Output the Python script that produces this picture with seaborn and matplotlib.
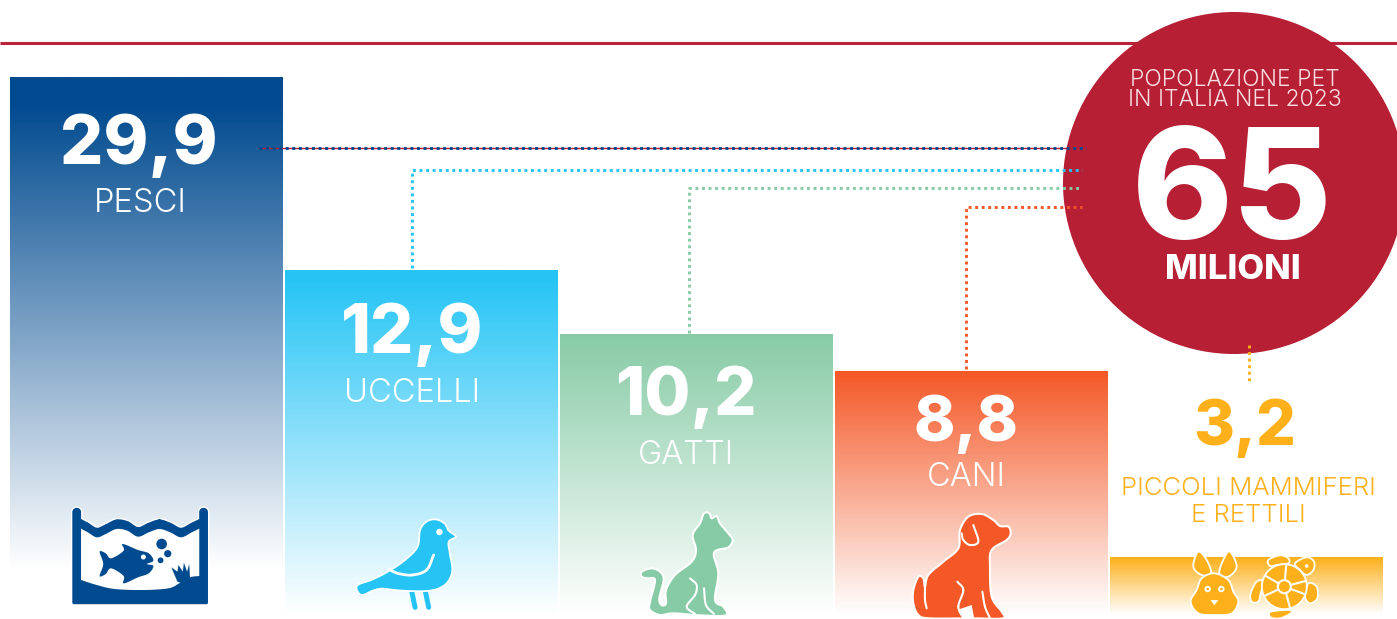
import numpy as np
import pandas as pd
import matplotlib
matplotlib.use("Agg")
import matplotlib.pyplot as plt
import seaborn as sns
from matplotlib.colors import to_rgb
from matplotlib.patches import Circle, Polygon

# ---- data -------------------------------------------------------------
categories = ["PESCI", "UCCELLI", "GATTI", "CANI", "PICCOLI MAMMIFERI\nE RETTILI"]
values_millions = [29.9, 12.9, 10.2, 8.8, 3.2]
# the column heights in the source are not proportional to the values
column_heights = [542, 349, 285, 248, 62]
bar_colors = ["#004a8f", "#25c4f5", "#87cba6", "#f45827", "#fdb01a"]
total_label = "65"
total_unit = "MILIONI"
total_title = "POPOLAZIONE PET\nIN ITALIA NEL 2023"

RED = "#b61f34"
WIDTH, HEIGHT = 1397, 619
BOLD = ["Inter", "Open Sans", "DejaVu Sans"]
LIGHT = ["Inter", "Open Sans", "DejaVu Sans"]

sns.set_theme(style="white")
plt.rcParams["font.family"] = ["Inter", "DejaVu Sans"]

fig = plt.figure(figsize=(WIDTH / 100, HEIGHT / 100), dpi=100, facecolor="white")
ax = fig.add_axes([0, 0, 1, 1])

df = pd.DataFrame({"categoria": categories, "altezza": column_heights})
sns.barplot(data=df, x="categoria", y="altezza", ax=ax, width=0.99,
            color="white", saturation=1, linewidth=0, errorbar=None)
# one category step = 275 px, first bar centred on x=146 px
ax.set_xlim(-146 / 275, (WIDTH - 146) / 275)
ax.set_ylim(0, HEIGHT)
ax.axis("off")

fade_floor = [50, 5, 5, 5, 5]
hold_top = [0.05, 0.02, 0.0, 0.0, 0.0]
for patch, col, floor, hold in zip(ax.patches, bar_colors, fade_floor, hold_top):
    x0, x1 = patch.get_x(), patch.get_x() + patch.get_width()
    top = patch.get_height()
    n = 256
    t = np.linspace(0, 1, n)              # 0 at the top
    y_px = top - t * top
    f = np.clip((top - y_px) / (top - floor), 0, 1)
    f = np.clip((f - hold) / (1 - hold), 0, 1)
    rgb = np.array(to_rgb(col))
    img = (rgb[None, :] * (1 - f[:, None]) + f[:, None])[:, None, :]
    im = ax.imshow(img, extent=[x0, x1, 0, top], origin="upper", aspect="auto", zorder=2)
    im.set_clip_path(patch)
    patch.set_facecolor("none")
ax.set_xlim(-146 / 275, (WIDTH - 146) / 275)
ax.set_ylim(0, HEIGHT)

# overlay in pixel units for annotation furniture
ov = fig.add_axes([0, 0, 1, 1], facecolor="none")
ov.set_xlim(0, WIDTH)
ov.set_ylim(HEIGHT, 0)
ov.axis("off")

ov.plot([0, WIDTH], [42.8, 42.8], color="#b8233a", lw=2.2, solid_capstyle="butt", zorder=1)
ov.add_patch(Circle((1234, 183), 171, fc=RED, ec="none", zorder=2))


def dotted(xs, ys, color, z=5):
    ov.plot(xs, ys, color=color, lw=2.1, zorder=z, linestyle=(0, (1.0, 1.25)),
            dash_capstyle="butt", solid_joinstyle="miter")


ov.plot([259, 1086], [147.8, 147.8], color=RED, lw=1.0, zorder=4)
dotted([259, 1086], [147.8, 147.8], bar_colors[0])
dotted([412, 412, 1082], [268, 169.5, 169.5], bar_colors[1])
dotted([689, 689, 1082], [333, 187.8, 187.8], bar_colors[2])
dotted([966, 966, 1082], [369, 206.8, 206.8], bar_colors[3])
dotted([1249, 1249], [345, 383], bar_colors[4])

# texts
labels = [f"{v:.1f}".replace(".", ",") for v in values_millions]
num_pos = [(139, 146), (412, 335), (686, 397), (966, 424), (1245, 428)]
num_size = [49, 49, 48, 45, 45]
cat_pos = [(140, 203), (412, 393), (686, 456), (966, 477), (1248, 502)]
cat_size = [23.5, 23.5, 23.5, 23.5, 18.5]
for i, cat in enumerate(categories):
    col = "white" if i < 4 else bar_colors[4]
    ov.text(*num_pos[i], labels[i], color=col, fontsize=num_size[i], fontweight=800,
            family=BOLD, ha="center", va="center", zorder=6)
    ov.text(*cat_pos[i], cat, color=col, fontsize=cat_size[i], fontweight=300,
            family=LIGHT, ha="center", va="center", linespacing=1.22, zorder=6)

ov.text(1235, 90, total_title, color="#f6dfe3", fontsize=16.5, fontweight=300, family=LIGHT,
        ha="center", va="center", linespacing=0.88, zorder=6)
ov.text(1232, 199, total_label, color="white", fontsize=110, fontweight=800, family=BOLD,
        ha="center", va="center", zorder=6)
ov.text(1233, 270, total_unit, color="white", fontsize=25, fontweight=800, family=BOLD,
        ha="center", va="center", zorder=6)


# ---- icons ------------------------------------------------------------
def smooth(pts, steps=10):
    """Closed Catmull-Rom curve through outline points."""
    p = np.asarray(pts, float)
    out = []
    n = len(p)
    for i in range(n):
        a, b, c, d = p[i - 1], p[i], p[(i + 1) % n], p[(i + 2) % n]
        for t in np.linspace(0, 1, steps, endpoint=False):
            out.append(0.5 * (2 * b + (c - a) * t + (2 * a - 5 * b + 4 * c - d) * t ** 2
                              + (3 * b - a - 3 * c + d) * t ** 3))
    return np.array(out)


def smooth_open(pts, steps=10):
    p = np.asarray(pts, float)
    p = np.vstack([2 * p[0] - p[1], p, 2 * p[-1] - p[-2]])
    out = []
    for i in range(1, len(p) - 2):
        a, b, c, d = p[i - 1], p[i], p[i + 1], p[i + 2]
        for t in np.linspace(0, 1, steps):
            out.append(0.5 * (2 * b + (c - a) * t + (2 * a - 5 * b + 4 * c - d) * t ** 2
                              + (3 * b - a - 3 * c + d) * t ** 3))
    return np.array(out)


def mapper(ox, oy, sx, sy):
    return lambda pts: np.column_stack([ox + np.asarray(pts, float)[:, 0] / sx,
                                        oy + np.asarray(pts, float)[:, 1] / sy])


def blob(m, pts, color, ec="white", lw=1.3, z=7):
    ov.add_patch(Polygon(smooth(m(pts)), closed=True, fc=color, ec=ec, lw=lw, zorder=z, joinstyle="round"))


def stroke(m, pts, color="white", lw=1.5, z=8):
    xy = smooth_open(m(pts))
    ov.plot(xy[:, 0], xy[:, 1], color=color, lw=lw, zorder=z, solid_capstyle="round")


def wall_cap(cx, r=8, top=66):
    ang = np.linspace(np.pi, 0, 12)
    return [(cx + r * np.cos(a), top - r * np.sin(a)) for a in ang]


# fish tank
m = mapper(0, 490, 2.79, 3.0)
BLUE = bar_colors[0]
water = [(226, 92), (245, 103), (270, 118), (295, 108), (325, 93), (355, 98), (385, 116), (415, 103),
         (445, 93), (475, 103), (505, 118), (535, 103), (556, 92)]
top_w = smooth_open(m(water))
low_w = smooth_open(m([(x, y + 24) for x, y in water]))
cap_l = m([(206, 338)] + wall_cap(214) + [(222, 92)])
cap_r = m([(560, 92)] + wall_cap(568) + [(576, 338)])
sil = np.vstack([cap_l, top_w, cap_r])
ov.add_patch(Polygon(sil, closed=True, fc=BLUE, ec="white", lw=4.2, zorder=6.8, joinstyle="round"))
ov.add_patch(Polygon(sil, closed=True, fc=BLUE, ec=BLUE, lw=2.2, zorder=7, joinstyle="round"))
floor = [(556, 258), (530, 262), (500, 280), (470, 295), (400, 300), (320, 297), (270, 285), (226, 270)]
ov.add_patch(Polygon(np.vstack([low_w, smooth_open(m(floor))]), closed=True, fc="white", ec="none", zorder=7.1))
blob(m, [(278, 185), (295, 190), (310, 205), (345, 182), (342, 162), (385, 180), (415, 190), (428, 212),
         (410, 222), (428, 228), (415, 250), (385, 262), (345, 280), (345, 258), (310, 235), (295, 252), (278, 258), (288, 222)],
     BLUE, ec="none", z=7.3)
ov.add_patch(Circle(m([(400, 201)])[0], 2.5, fc="white", ec="none", zorder=7.4))
for cx, cy, r in [(451, 162, 5.3), (468, 191, 3.6), (448, 211, 2.9)]:
    ov.add_patch(Circle(m([(cx, cy)])[0], r, fc=BLUE, ec="none", zorder=7.3))
ov.add_patch(Polygon(m([(495, 275), (478, 232), (495, 245), (498, 225), (510, 245), (513, 218), (522, 245), (528, 222), (530, 262), (520, 285)]),
                     closed=True, fc=BLUE, ec="none", zorder=7.3))

# bird
mb = mapper(0, 490, 2.79, 3.0)
C = bar_colors[1]
stroke(mb, [(1148, 300), (1158, 352)], C, lw=3.6, z=6.9)
stroke(mb, [(1186, 300), (1196, 352)], C, lw=3.6, z=6.9)
blob(mb, [(998, 285), (1040, 268), (1085, 243), (1130, 210), (1165, 170), (1172, 120), (1190, 95), (1215, 88),
          (1240, 100), (1252, 122), (1272, 140), (1252, 155), (1255, 190), (1262, 240), (1250, 275), (1225, 295),
          (1190, 303), (1140, 303), (1100, 300), (1065, 296), (1040, 302), (1012, 315), (998, 305)], C)
stroke(mb, [(1085, 238), (1110, 250), (1150, 255), (1190, 240), (1210, 195)], lw=2.0)
ov.add_patch(Circle(mb([(1226, 126)])[0], 3.2, fc="white", ec="none", zorder=8))

# cat
mc = mapper(560, 490, 3, 3)
C = bar_colors[2]
blob(mc, [(245, 245), (275, 235), (300, 245), (311, 268), (298, 325), (305, 345), (318, 340), (318, 300), (345, 255), (395, 215), (408, 180), (398, 135), (420, 100),
          (432, 70), (448, 70), (455, 85), (470, 78), (480, 100), (505, 130), (518, 150), (505, 172), (462, 188),
          (475, 250), (465, 330), (490, 350), (497, 376), (420, 376), (340, 370), (300, 375), (270, 360), (270, 335),
          (285, 270), (262, 265), (245, 260)], C, lw=1.5)
stroke(mc, [(390, 265), (410, 285), (405, 315), (380, 350), (405, 372)])
stroke(mc, [(432, 295), (438, 345), (462, 372)])

# dog
md = mapper(560, 490, 3, 3)
C = bar_colors[3]
blob(md, [(1060, 300), (1075, 260), (1090, 265), (1095, 290), (1105, 255), (1150, 215), (1195, 175), (1200, 120), (1225, 80),
          (1265, 72), (1300, 90), (1320, 108), (1345, 110), (1352, 130), (1340, 150), (1295, 180), (1290, 230),
          (1295, 320), (1325, 365), (1328, 385), (1240, 385), (1110, 385), (1075, 375), (1060, 340)], C, lw=1.5)
stroke(md, [(1240, 105), (1255, 155), (1230, 165), (1210, 150), (1205, 130)])
stroke(md, [(1095, 290), (1095, 330), (1100, 355)])
stroke(md, [(1192, 275), (1210, 300), (1195, 350), (1210, 385)])
stroke(md, [(1267, 305), (1275, 350), (1290, 385)])
ov.add_patch(Polygon(md([(1197, 358), (1235, 345), (1243, 387), (1210, 387)]), closed=True, fc="white", ec="none", zorder=7.5))

# rabbit
mr = mapper(1100, 530, 3, 3)
C = bar_colors[4]
blob(mr, [(295, 65), (320, 90), (333, 130), (305, 135), (280, 110)], C)
blob(mr, [(390, 65), (410, 110), (385, 140), (358, 130), (372, 85)], C)
blob(mr, [(343, 130), (385, 150), (400, 185), (415, 215), (395, 250), (345, 255), (295, 250), (272, 215), (290, 180), (305, 145)], C)
for p in [(323, 177), (364, 177)]:
    ov.add_patch(Circle(mr([p])[0], 3.2, fc="white", ec="none", zorder=8))
    ov.add_patch(Circle(mr([p])[0], 1.3, fc=C, ec="none", zorder=8.1))
ov.add_patch(Polygon(mr([(332, 210), (355, 210), (343, 226)]), closed=True, fc="white", ec="none", zorder=8))

# turtle
blob(mr, [(505, 90), (540, 76), (565, 85), (565, 100), (530, 105), (510, 108)], C)
blob(mr, [(585, 100), (620, 82), (642, 95), (640, 120), (620, 135), (600, 120)], C)
blob(mr, [(490, 155), (470, 155), (452, 190), (455, 215), (475, 215), (482, 190)], C)
blob(mr, [(625, 160), (650, 170), (652, 205), (630, 220), (615, 200)], C)
blob(mr, [(512, 245), (570, 240), (572, 250), (540, 265), (512, 262)], C)
ov.add_patch(Circle(mr([(553, 170)])[0], 22.5, fc=C, ec="white", lw=1.3, zorder=7.5))
for ang in np.deg2rad([15, 85, 150, 205, 285, 340]):
    c = mr([(553, 170)])[0]
    ov.plot([c[0], c[0] + 22 * np.cos(ang)], [c[1], c[1] - 22 * np.sin(ang)], color="white", lw=1.5, zorder=7.6)
ov.add_patch(Circle(mr([(553, 170)])[0], 6.5, fc=C, ec="white", lw=1.5, zorder=7.7))
ov.add_patch(Circle(mr([(620, 108)])[0], 1.8, fc="white", ec="none", zorder=8))

fig.savefig("out.png", dpi=100, facecolor="white")
